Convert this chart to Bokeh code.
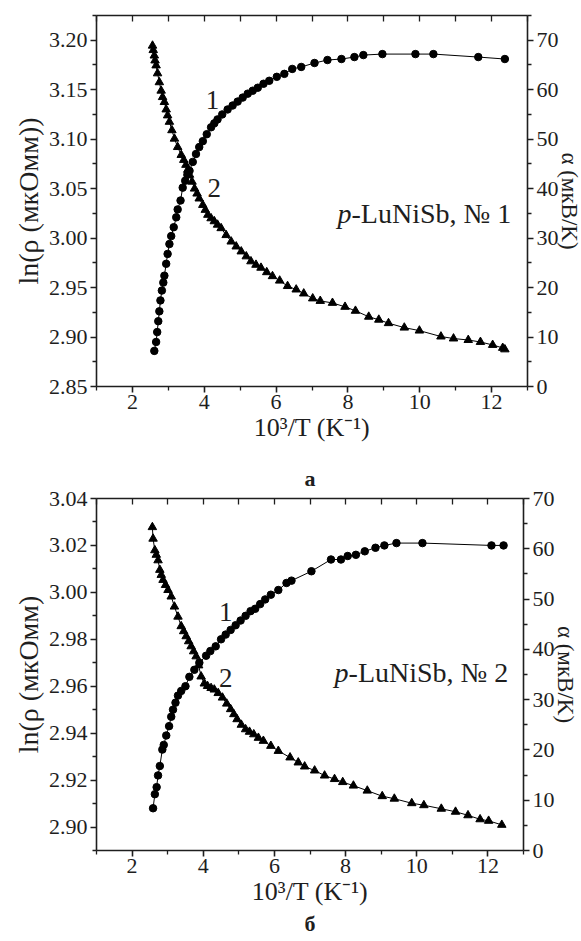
from bokeh.plotting import figure
from bokeh.models import Range1d, LinearAxis, FixedTicker, PrintfTickFormatter, Label, Title
from bokeh.layouts import column
from bokeh.embed import file_html
from bokeh.resources import INLINE

# ---------------- panel a (p-LuNiSb, No 1) ----------------
a_rho_x = [2.61, 2.66, 2.69, 2.72, 2.75, 2.78, 2.82, 2.86, 2.89, 2.94, 2.98, 3.03, 3.08, 3.15,
           3.22, 3.26, 3.34, 3.40, 3.47, 3.53, 3.59, 3.68, 3.77, 3.86, 3.96, 4.07, 4.19, 4.28,
           4.37, 4.50, 4.65, 4.79, 4.93, 5.07, 5.21, 5.35, 5.49, 5.65, 5.81, 6.02, 6.23, 6.45,
           6.70, 7.07, 7.43, 7.82, 8.18, 8.43, 8.96, 9.88, 10.38, 11.63, 12.37]
a_rho_y = [2.886, 2.895, 2.905, 2.916, 2.926, 2.937, 2.947, 2.955, 2.962, 2.974, 2.984, 2.994,
           3.002, 3.011, 3.021, 3.029, 3.038, 3.051, 3.058, 3.064, 3.068, 3.077, 3.085, 3.092,
           3.098, 3.105, 3.112, 3.116, 3.120, 3.125, 3.130, 3.134, 3.138, 3.142, 3.146, 3.149,
           3.152, 3.156, 3.159, 3.163, 3.166, 3.171, 3.173, 3.177, 3.180, 3.181, 3.183, 3.185,
           3.186, 3.186, 3.186, 3.183, 3.181]
a_alpha_x = [2.56, 2.58, 2.61, 2.63, 2.66, 2.70, 2.75, 2.80, 2.84, 2.89, 2.94, 2.98, 3.03, 3.10,
             3.17, 3.26, 3.36, 3.43, 3.49, 3.54, 3.59, 3.66, 3.73, 3.80, 3.86, 3.96, 4.03, 4.10,
             4.19, 4.28, 4.37, 4.47, 4.61, 4.75, 4.89, 5.03, 5.17, 5.30, 5.44, 5.58, 5.74, 5.90,
             6.10, 6.32, 6.56, 6.77, 7.02, 7.23, 7.57, 7.92, 8.21, 8.58, 8.86, 9.13, 9.57, 9.99,
             10.59, 10.94, 11.35, 11.69, 12.03, 12.31, 12.37]
a_alpha_y = [68.9, 68.0, 66.9, 65.9, 64.9, 63.3, 61.5, 59.8, 58.5, 57.5, 56.0, 54.8, 53.5, 51.8,
             50.1, 48.4, 46.8, 45.8, 44.8, 43.8, 42.8, 41.4, 40.0, 39.0, 38.0, 36.7, 35.7, 34.7,
             34.0, 33.4, 32.7, 32.0, 30.6, 29.3, 28.3, 27.3, 26.3, 25.3, 24.6, 24.0, 23.1, 22.3,
             21.4, 20.3, 19.6, 18.8, 17.8, 17.3, 16.9, 16.1, 15.3, 14.1, 13.5, 12.8, 11.9, 11.3,
             10.1, 9.7, 9.4, 9.0, 8.4, 7.8, 7.5]

# ---------------- panel b (p-LuNiSb, No 2) ----------------
b_rho_x = [2.59, 2.64, 2.69, 2.73, 2.78, 2.85, 2.89, 2.96, 3.04, 3.10, 3.15, 3.22, 3.29, 3.38,
           3.50, 3.61, 3.75, 3.89, 4.08, 4.20, 4.35, 4.50, 4.63, 4.77, 4.91, 5.05, 5.19, 5.33,
           5.46, 5.60, 5.74, 5.90, 6.11, 6.34, 6.48, 7.04, 7.59, 7.87, 8.06, 8.29, 8.54, 8.84,
           9.09, 9.43, 10.16, 12.10, 12.44]
b_rho_y = [2.908, 2.914, 2.917, 2.922, 2.926, 2.933, 2.935, 2.939, 2.943, 2.947, 2.950, 2.953,
           2.956, 2.958, 2.960, 2.964, 2.967, 2.970, 2.973, 2.975, 2.977, 2.980, 2.982, 2.984,
           2.986, 2.988, 2.990, 2.992, 2.993, 2.995, 2.997, 2.999, 3.001, 3.004, 3.005, 3.009,
           3.014, 3.014, 3.0155, 3.016, 3.0175, 3.019, 3.020, 3.021, 3.021, 3.020, 3.020]
b_alpha_x = [2.57, 2.59, 2.64, 2.68, 2.73, 2.78, 2.82, 2.87, 2.94, 3.01, 3.10, 3.19, 3.29, 3.38,
             3.45, 3.52, 3.59, 3.66, 3.73, 3.80, 3.87, 3.94, 4.03, 4.12, 4.22, 4.31, 4.42, 4.54,
             4.66, 4.77, 4.86, 4.95, 5.07, 5.19, 5.30, 5.42, 5.55, 5.69, 5.90, 6.11, 6.44, 6.67,
             6.85, 7.13, 7.41, 7.69, 7.92, 8.22, 8.61, 9.03, 9.37, 9.86, 10.20, 10.69, 11.09,
             11.44, 11.78, 12.02, 12.39]
b_alpha_y = [64.3, 62.0, 59.7, 58.8, 57.7, 55.8, 54.8, 53.8, 52.8, 51.8, 50.5, 48.5, 46.5, 44.6,
             43.6, 42.6, 41.6, 40.6, 39.6, 38.6, 36.8, 34.6, 33.2, 32.7, 32.3, 32.0, 31.3, 30.4,
             29.2, 28.1, 27.1, 26.1, 25.0, 24.1, 23.6, 23.1, 22.4, 21.8, 20.8, 19.8, 18.5, 17.5,
             16.7, 15.9, 14.9, 14.2, 13.6, 12.9, 11.9, 10.8, 10.3, 9.4, 9.0, 8.3, 7.7, 7.0, 6.2,
             5.9, 5.1]

x_ticks = [2, 4, 6, 8, 10, 12]
x_minor = [1, 3, 5, 7, 9, 11, 13]
a_left_ticks = [2.85, 2.90, 2.95, 3.00, 3.05, 3.10, 3.15, 3.20]
a_left_minor = [2.875, 2.925, 2.975, 3.025, 3.075, 3.125, 3.175, 3.225]
a_right_ticks = [0, 10, 20, 30, 40, 50, 60, 70]
a_right_minor = [5, 15, 25, 35, 45, 55, 65, 75]
b_left_ticks = [2.90, 2.92, 2.94, 2.96, 2.98, 3.00, 3.02, 3.04]
b_left_minor = [2.89, 2.91, 2.93, 2.95, 2.97, 2.99, 3.01, 3.03]
b_right_ticks = [0, 10, 20, 30, 40, 50, 60, 70]
b_right_minor = [5, 15, 25, 35, 45, 55, 65]

FONT = "Liberation Serif"
TICK_FS = "22px"
INK = "#1e1e1e"


def style_axis(ax, ticks, minor, fmt, label_fs="24px", outside=True):
    ax.ticker = FixedTicker(ticks=ticks, minor_ticks=minor)
    ax.formatter = PrintfTickFormatter(format=fmt)
    ax.axis_line_width = 1.6
    ax.axis_line_color = INK
    ax.major_tick_line_width = 1.6
    ax.minor_tick_line_width = 1.3
    ax.major_tick_line_color = INK
    ax.minor_tick_line_color = INK
    if outside:
        ax.major_tick_out = 6
        ax.major_tick_in = 0
        ax.minor_tick_out = 4
        ax.minor_tick_in = 0
    else:
        ax.major_tick_out = 0
        ax.major_tick_in = 6
        ax.minor_tick_out = 0
        ax.minor_tick_in = 6
    ax.major_label_text_font = FONT
    ax.major_label_text_font_size = TICK_FS
    ax.major_label_text_color = INK
    ax.major_label_standoff = 3
    ax.axis_label_text_font = FONT
    ax.axis_label_text_font_size = label_fs
    ax.axis_label_text_font_style = "normal"
    ax.axis_label_text_color = INK
    ax.axis_label_standoff = 0


def panel_label(text, offset, standoff):
    return Title(text=text, text_font=FONT, text_font_size="22px", text_font_style="bold",
                 align="center", offset=offset, text_color=INK, standoff=standoff)


def panel(rho_x, rho_y, al_x, al_y, yr, ar, lt, lm, rt, rm, ylab, num, lab1, lab2, ann,
          fw, fh, btop, bbot, bleft, bright):
    p = figure(frame_width=fw, frame_height=fh, output_backend="svg", toolbar_location=None,
               title=None, x_range=Range1d(1, 13), y_range=Range1d(*yr),
               min_border_left=bleft, min_border_right=bright,
               min_border_top=btop, min_border_bottom=bbot)
    p.extra_y_ranges = {"alpha": Range1d(*ar)}
    p.xgrid.visible = False
    p.ygrid.visible = False
    p.outline_line_color = None
    p.background_fill_color = "white"
    p.border_fill_color = "white"

    style_axis(p.xaxis[0], x_ticks, x_minor, "%d", label_fs="26px")
    p.xaxis[0].axis_label = "10³/T (K⁻¹)"
    p.xaxis[0].axis_label_standoff = 1
    p.xaxis[0].major_label_standoff = 2
    style_axis(p.yaxis[0], lt, lm, "%.2f", label_fs="28px")
    p.yaxis[0].axis_label = ylab
    p.yaxis[0].axis_label_standoff = 2

    rax = LinearAxis(y_range_name="alpha", axis_label="α (мкВ/K)")
    style_axis(rax, rt, rm, "%d", label_fs="23px")
    rax.axis_label_standoff = -5
    p.add_layout(rax, "right")
    # top frame edge: only inward ticks, no labels
    tax = LinearAxis()
    style_axis(tax, [], x_ticks + x_minor, "%d", outside=False)
    tax.major_label_standoff = 0
    p.add_layout(tax, "above")

    p.line(rho_x, rho_y, line_color="black", line_width=1)
    p.scatter(rho_x, rho_y, marker="circle", size=7.5, fill_color="black", line_color="black")
    p.line(al_x, al_y, line_color="black", line_width=1, y_range_name="alpha")
    p.scatter(al_x, al_y, marker="triangle", size=8.5, fill_color="black", line_color="black",
              y_range_name="alpha")

    for (lx, ly), t in ((lab1, "1"), (lab2, "2")):
        p.add_layout(Label(x=lx, y=ly, text=t, text_font=FONT, text_font_size="27px",
                           text_align="center", text_baseline="middle", text_color=INK))
    p.add_layout(Label(x=ann[0], y=ann[1], text="p", text_font=FONT, text_font_size="28px",
                       text_font_style="italic", text_align="left", text_baseline="middle",
                       text_color=INK))
    p.add_layout(Label(x=ann[0], y=ann[1], x_offset=14, text="-LuNiSb, № " + num, text_font=FONT,
                       text_font_size="28px", text_align="left", text_baseline="middle",
                       text_color=INK))
    return p


pa = panel(a_rho_x, a_rho_y, a_alpha_x, a_alpha_y, (2.85, 3.225), (0, 75),
           a_left_ticks, a_left_minor, a_right_ticks, a_right_minor,
           "ln(ρ (мкОмм))", "1", (4.23, 3.140), (4.28, 3.051), (7.71, 3.025),
           431, 371, 15, 69, 91, 59)
pb = panel(b_rho_x, b_rho_y, b_alpha_x, b_alpha_y, (2.89, 3.04), (0, 70),
           b_left_ticks, b_left_minor, b_right_ticks, b_right_minor,
           "ln(ρ (мкОмм)", "2", (4.63, 2.9917), (4.63, 2.9634), (7.69, 2.9657),
           427, 352, 43, 91, 96, 58)
# panel letters: "а" sits between the two panels, "б" under the second one
pb.add_layout(panel_label("а", -20, 15), "above")
pb.add_layout(panel_label("б", -26, 0), "below")

layout = column(pa, pb, spacing=0)
open("out.html", "w").write(file_html(layout, INLINE))
